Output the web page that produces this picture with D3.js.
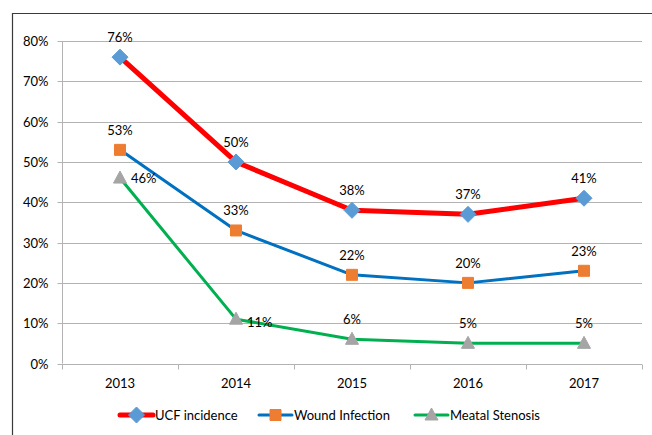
<!DOCTYPE html>
<html><head><meta charset="utf-8">
<script src="https://cdn.jsdelivr.net/npm/d3@7/dist/d3.min.js"></script>
<style>body{margin:0;background:#fff}svg{display:block}</style>
</head><body>
<svg id="c" width="652" height="435"></svg>
<script>
const years = ["2013","2014","2015","2016","2017"];
const ucf = [0.76,0.50,0.38,0.37,0.41];
const wound = [0.53,0.33,0.22,0.20,0.23];
const meatal = [0.46,0.11,0.06,0.05,0.05];
const yTicks = [0,0.1,0.2,0.3,0.4,0.5,0.6,0.7,0.8];
const seriesNames = ["UCF incidence","Wound Infection","Meatal Stenosis"];

const svg = d3.select("#c");
const font = "Lato, 'Open Sans', sans-serif";
const L = 62, R = 642, T = 41, B = 363.5;
const x = d3.scaleBand().domain(years).range([L, R]);
const y = d3.scaleLinear().domain([0, 0.8]).range([B, T]);

// outer border
svg.append("path").attr("d","M12.5,435 L12.5,13.5 L652,13.5").attr("fill","none").attr("stroke","#3a3a3a").attr("stroke-width",1.2);

// gridlines
svg.append("g").selectAll("line").data(yTicks.filter(d=>d>0)).join("line")
  .attr("x1",L).attr("x2",R).attr("y1",d=>Math.round(y(d))+0.5).attr("y2",d=>Math.round(y(d))+0.5)
  .attr("stroke","#b3b3b3").attr("stroke-width",1);

// y axis
const ya = svg.append("g").attr("transform",`translate(${L+0.5},0)`)
  .call(d3.axisLeft(y).tickValues(yTicks).tickFormat(d3.format(".0%")).tickSize(5).tickPadding(9));
ya.select(".domain").attr("stroke","#b3b3b3").attr("d",`M0,${T} V${B}`);
ya.selectAll(".tick line").attr("stroke","#b3b3b3");
ya.selectAll(".tick").attr("transform",d=>`translate(0,${Math.round(y(d))+0.5})`);
ya.selectAll("text").attr("font-family",font).attr("font-size",13).attr("fill","#000");

// x axis
const xa = svg.append("g").attr("transform",`translate(0,${Math.round(B)+0.5})`)
  .call(d3.axisBottom(x).tickSize(0).tickPadding(14));
xa.select(".domain").attr("stroke","#b3b3b3").attr("d",`M${L},0 H${R}`);
xa.selectAll("text").attr("font-family",font).attr("font-size",13).attr("fill","#000");
const bounds = [L].concat(years.map(d=>x(d)+x.bandwidth()));
xa.selectAll(".bt").data(bounds).join("line").attr("class","bt")
  .attr("x1",d=>Math.round(d)+0.5).attr("x2",d=>Math.round(d)+0.5).attr("y1",0).attr("y2",5).attr("stroke","#b3b3b3");

const cx = d => x(d) + x.bandwidth()/2;
const line = d3.line().x((d,i)=>cx(years[i])).y(d=>y(d));

const series = [
  {vals:ucf, color:"#ff0000", w:5, marker:"diamond", mcol:"#5b9bd5"},
  {vals:wound, color:"#0070c0", w:3, marker:"square", mcol:"#ed7d31"},
  {vals:meatal, color:"#00b050", w:3, marker:"triangle", mcol:"#a5a5a5"}
];

function markerPath(type){
  if(type==="diamond") return "M0,-8 L8,0 L0,8 L-8,0 Z";
  if(type==="square") return "M-5.5,-5.5 H5.5 V5.5 H-5.5 Z";
  return "M0,-7 L6.5,5 L-6.5,5 Z";
}

[...series].reverse().forEach(s=>{
  svg.append("path").datum(s.vals).attr("d",line).attr("fill","none")
    .attr("stroke",s.color).attr("stroke-width",s.w).attr("stroke-linejoin","round").attr("stroke-linecap","round");
});
[...series].reverse().forEach(s=>{
  svg.append("g").selectAll("path").data(s.vals).join("path")
    .attr("transform",(d,i)=>`translate(${cx(years[i])},${y(d)})`)
    .attr("d",markerPath(s.marker)).attr("fill",s.mcol)
    .attr("stroke",s.mcol).attr("stroke-width",1).attr("stroke-linejoin","round");
});

// labels
series.forEach((s,si)=>{
  svg.append("g").selectAll("text").data(s.vals).join("text")
    .attr("x",(d,i)=>{ if(si===2 && i<2) return cx(years[i])+11; return cx(years[i]); })
    .attr("y",(d,i)=>{ if(si===2 && i===0) return y(d)+5; if(si===2 && i===1) return y(d)+8; return y(d)-15; })
    .attr("text-anchor",(d,i)=> (si===2 && i<2) ? "start" : "middle")
    .attr("font-family",font).attr("font-size",13).attr("fill","#000")
    .text(d=>d3.format(".0%")(d));
});

// legend
const legX = [120, 259, 415];
const lg = svg.append("g");
series.forEach((s,i)=>{
  const g = lg.append("g").attr("transform",`translate(${legX[i]},415)`);
  g.append("line").attr("x1",0).attr("x2",33).attr("y1",0).attr("y2",0)
    .attr("stroke",s.color).attr("stroke-width",s.w).attr("stroke-linecap","round");
  g.append("path").attr("transform","translate(16.5,0)").attr("d",markerPath(s.marker))
    .attr("fill",s.mcol).attr("stroke",s.mcol).attr("stroke-linejoin","round");
  g.append("text").attr("x",35).attr("y",5).attr("font-family",font).attr("font-size",13)
    .attr("fill","#000").text(seriesNames[i]);
});
</script>
</body></html>
